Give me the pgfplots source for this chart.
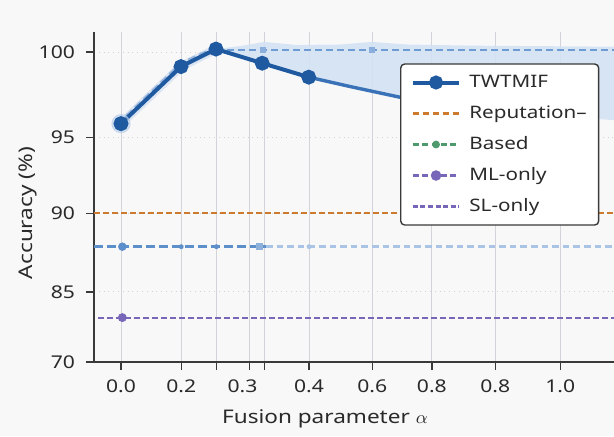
\documentclass[border=0pt]{standalone}
\usepackage{fontspec}
\setmainfont{Noto Sans}[FakeStretch=1.2]
\usepackage{pgfplots}
\pgfplotsset{compat=1.18}
\usepgfplotslibrary{fillbetween}
\definecolor{mainblue}{HTML}{1F5AA0}
\definecolor{lineblue}{HTML}{3A72B8}
\definecolor{bandblue}{HTML}{D4E2F4}
\definecolor{dashblue}{HTML}{6E9BD3}
\definecolor{lowblue}{HTML}{5D8FCB}
\definecolor{lowblue2}{HTML}{A9C4E4}
\definecolor{orng}{HTML}{CC7A2E}
\definecolor{grn}{HTML}{4E9A6E}
\definecolor{purp}{HTML}{7866B8}
\definecolor{gridc}{HTML}{D3D3DA}
\definecolor{axc}{HTML}{3A3A3A}
\definecolor{txt}{HTML}{2A2A2A}
\definecolor{bg}{HTML}{F8F8F9}
\begin{document}
\begin{tikzpicture}
\begin{axis}[
  set layers, clip=false,
  at={(0,0)}, anchor=south west,
  scale only axis, width=260pt, height=165.15pt,
  xmin=-0.0615, xmax=1.1225, ymin=70, ymax=101.2,
  y coord trafo/.code={\pgfmathparse{(#1>=95)*(224.4+(#1-95)*17)+(#1<95)*(#1>=90)*(148.4+(#1-90)*15.2)+(#1<90)*(#1>=85)*(70+(#1-85)*15.68)+(#1<85)*((#1-70)*4.6667)}},
  axis x line*=bottom, axis y line*=left,
  axis line style={axc, line width=0.8pt, -},
  tick align=outside, major tick length=4pt,
  tick style={axc, line width=0.7pt},
  xtick={0,0.1371,0.2172,0.2926,0.3267,0.4281,0.5720,0.7077,0.8520,1.0},
  xticklabels={0.0,0.2,,\hspace*{-7pt}0.3,,0.4,0.6,0.8,0.8,1.0},
  ytick={70,85,90,95,100},
  yticklabels={70,85,90,95,100},
  ticklabel style={font=\fontsize{8.8}{10}\selectfont, text=txt},
  xticklabel style={yshift=-1.5pt},
  yticklabel style={xshift=-2pt},
  xmajorgrids, ymajorgrids,
  major x grid style={gridc, line width=0.5pt},
  major y grid style={gridc, dotted, line width=0.5pt},
  every axis x label/.style={at={(rel axis cs:0.444,-0.172)}, anchor=center},
  every axis y label/.style={at={(rel axis cs:-0.127,0.451)}, anchor=center, rotate=90},
  label style={font=\fontsize{9.4}{11}\selectfont, text=txt},
  xlabel={Fusion parameter $\alpha$},
  ylabel={Accuracy (\%)},
  legend style={at={(rel axis cs:0.5885,0.9043)}, anchor=north west,
    draw=axc, line width=0.7pt, rounded corners=2pt, fill=white,
    font=\fontsize{8.6}{10}\selectfont, text=txt,
    inner xsep=5pt, inner ysep=4pt, row sep=5pt, column sep=3pt,
    nodes={inner sep=1pt, text height=6.5pt, text depth=2pt}},
  legend cell align=left,
  legend image code/.code={\draw[mark repeat=2,mark phase=2,#1] plot coordinates {(0cm,0cm) (0.41cm,0cm) (0.82cm,0cm)};},
]
\begin{pgfonlayer}{axis background}
\fill[bg] (rel axis cs:-0.1808,-0.224) rectangle (rel axis cs:1,1.096);
\end{pgfonlayer}
% uncertainty band
\addplot[name path=bup, draw=none, forget plot] coordinates {(0.2163,100.18)(0.27,100.35)(0.3267,100.6)(0.40,100.42)(0.50,100.45)(0.5715,100.6)(0.65,100.45)(0.80,100.38)(1.1225,100.32)};
\addplot[name path=blo, draw=none, forget plot] coordinates {(0.2163,100.18)(0.3215,99.35)(0.4274,98.53)(0.5214,97.98)(0.6352,97.35)(0.80,96.7)(1.00,96.25)(1.1225,96.0)};
\addplot[bandblue, fill opacity=0.9, forget plot] fill between[of=bup and blo];
% halo along rising part
\addplot[lowblue!60, line width=4.5pt, opacity=0.3, forget plot] coordinates {(0,95.8)(0.1366,99.15)(0.2163,100.18)};
\addplot[lowblue, line width=1.3pt, opacity=0.55, dash pattern=on 4pt off 2pt, forget plot] coordinates {(0.012,96.25)(0.1366,99.35)(0.2163,100.28)};
% top dashed line
\addplot[dashblue, line width=1pt, dash pattern=on 3.5pt off 2pt, forget plot] coordinates {(0.2163,100.14)(1.1225,100.14)};
\addplot[only marks, mark=square*, mark size=1.3pt, dashblue!80, forget plot] coordinates {(0.3233,100.14)(0.5708,100.14)};
% reputation line
\addplot[orng, line width=1pt, dash pattern=on 3pt off 1.5pt, forget plot] coordinates {(-0.0615,90)(1.1225,90)};
% light blue dashed line
\addplot[lowblue, line width=1.2pt, dash pattern=on 4.5pt off 2pt, forget plot] coordinates {(-0.0615,87.88)(0.33,87.88)};
\addplot[lowblue2, line width=1.2pt, dash pattern=on 3.3pt off 2pt, forget plot] coordinates {(0.33,87.88)(1.1225,87.88)};
\addplot[only marks, mark=*, mark size=1.9pt, lowblue, forget plot] coordinates {(0.003,87.88)};
\addplot[only marks, mark=*, mark size=1pt, lowblue, forget plot] coordinates {(0.1371,87.88)(0.2172,87.88)};
\addplot[only marks, mark=square*, mark size=1.5pt, lowblue!70, forget plot] coordinates {(0.3143,87.88)};
\addplot[only marks, mark=*, mark size=1pt, lowblue2, forget plot] coordinates {(0.4281,87.88)};
% purple line
\addplot[purp, line width=1pt, dash pattern=on 3pt off 1.5pt, forget plot] coordinates {(-0.0524,79.5)(1.1225,79.5)};
\addplot[only marks, mark=*, mark size=2pt, purp, forget plot] coordinates {(0.003,79.5)};
% TWTMIF continuation
\addplot[lineblue, line width=1.7pt, forget plot] coordinates {(0.4274,98.53)(0.5214,97.98)(0.6352,97.35)(0.75,96.95)};
% P0 halo
\addplot[only marks, mark=*, mark size=4.6pt, mark options={fill=lowblue!45, draw=lowblue!45}, opacity=0.6, forget plot] coordinates {(0,95.8)};
% TWTMIF
\addplot[mainblue, line width=2pt, mark=*, mark size=2.7pt, forget plot] coordinates {(0,95.8)(0.1366,99.15)(0.2163,100.18)(0.3215,99.35)(0.4274,98.53)};
\addplot[only marks, mark=*, mark size=3.3pt, mainblue, forget plot] coordinates {(0,95.8)};
% legend
\addlegendimage{mainblue, line width=2pt, mark=*, mark size=2.5pt}
\addlegendentry{TWTMIF}
\addlegendimage{orng, line width=1.2pt, dash pattern=on 3.3pt off 1.7pt}
\addlegendentry{Reputation–}
\addlegendimage{grn, line width=1.2pt, dash pattern=on 3pt off 1.7pt, mark=*, mark size=1.3pt, mark options={solid}}
\addlegendentry{Based}
\addlegendimage{purp, line width=1.2pt, dash pattern=on 3pt off 1.7pt, mark=*, mark size=2pt, mark options={solid}}
\addlegendentry{ML-only}
\addlegendimage{purp, line width=1.2pt, dash pattern=on 2.4pt off 1.4pt}
\addlegendentry{SL-only}
\end{axis}
\pgfresetboundingbox
\path[use as bounding box] (-47pt,-37pt) rectangle (260pt,181pt);
\end{tikzpicture}
\end{document}
